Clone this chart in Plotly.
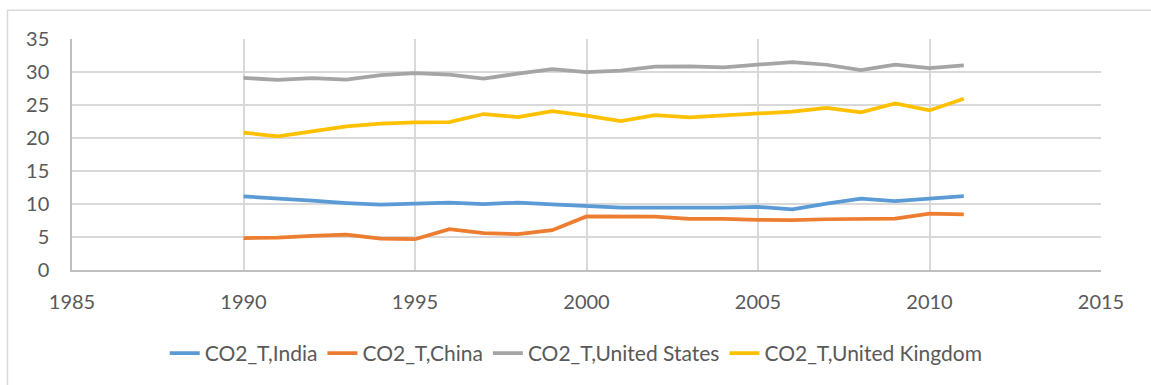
import plotly.graph_objects as go

years = list(range(1990, 2012))

india = [11.16, 10.76, 10.50, 10.15, 9.90, 10.05, 10.20, 10.00, 10.20, 9.95,
         9.70, 9.45, 9.45, 9.40, 9.45, 9.55, 9.20, 10.05, 10.80, 10.45,
         10.86, 11.21]
china = [4.82, 4.92, 5.17, 5.37, 4.77, 4.67, 6.18, 5.58, 5.43, 6.03,
         8.12, 8.10, 8.10, 7.74, 7.74, 7.59, 7.54, 7.69, 7.79, 7.79,
         8.54, 8.44]
united_states = [29.11, 28.80, 29.06, 28.86, 29.51, 29.81, 29.60, 29.00, 29.76, 30.42,
                 29.98, 30.20, 30.80, 30.86, 30.72, 31.07, 31.50, 31.10, 30.30, 31.10,
                 30.60, 31.00]
united_kingdom = [20.81, 20.26, 21.01, 21.77, 22.17, 22.37, 22.42, 23.63, 23.18, 24.08,
                  23.40, 22.57, 23.48, 23.13, 23.43, 23.73, 23.98, 24.58, 23.88, 25.24,
                  24.18, 25.94]

series = [
    ("CO2_T,India", india, "#5B9BD5"),
    ("CO2_T,China", china, "#ED7D31"),
    ("CO2_T,United States", united_states, "#A5A5A5"),
    ("CO2_T,United Kingdom", united_kingdom, "#FFC000"),
]

x_ticks = [1985, 1990, 1995, 2000, 2005, 2010, 2015]
y_ticks = [0, 5, 10, 15, 20, 25, 30, 35]

FONT = "Lato"
TEXT = "#595959"

fig = go.Figure()
for name, values, color in series:
    fig.add_trace(go.Scatter(
        x=years, y=values, name=name, mode="lines",
        line=dict(color=color, width=3.75),
    ))

fig.update_layout(
    width=1151, height=385,
    margin=dict(l=72, r=50, t=39, b=114),
    paper_bgcolor="white", plot_bgcolor="white",
    font=dict(family=FONT, size=20, color=TEXT),
    showlegend=True,
    legend=dict(
        orientation="h", x=0.49, xanchor="center", y=-0.355, yanchor="middle",
        font=dict(family=FONT, size=21, color=TEXT),
        bgcolor="rgba(0,0,0,0)",
    ),
    xaxis=dict(
        range=[1985, 2015], tickvals=x_ticks, ticks="",
        showgrid=True, gridcolor="#D9D9D9", gridwidth=1.5,
        showline=True, linecolor="#BFBFBF", linewidth=1.5,
        zeroline=False, ticklabelstandoff=13,
    ),
    yaxis=dict(
        range=[0, 35], tickvals=y_ticks, ticks="",
        showgrid=True, gridcolor="#D9D9D9", gridwidth=1.5,
        showline=True, linecolor="#BFBFBF", linewidth=1.5,
        zeroline=False, ticklabelstandoff=17,
    ),
    shapes=[dict(
        type="rect", xref="paper", yref="paper",
        x0=-0.0627, x1=1.06, y0=-0.52, y1=1.124,
        line=dict(color="#D9D9D9", width=1.5), fillcolor="rgba(0,0,0,0)",
        layer="below",
    )],
)

fig.write_html("out.html")
